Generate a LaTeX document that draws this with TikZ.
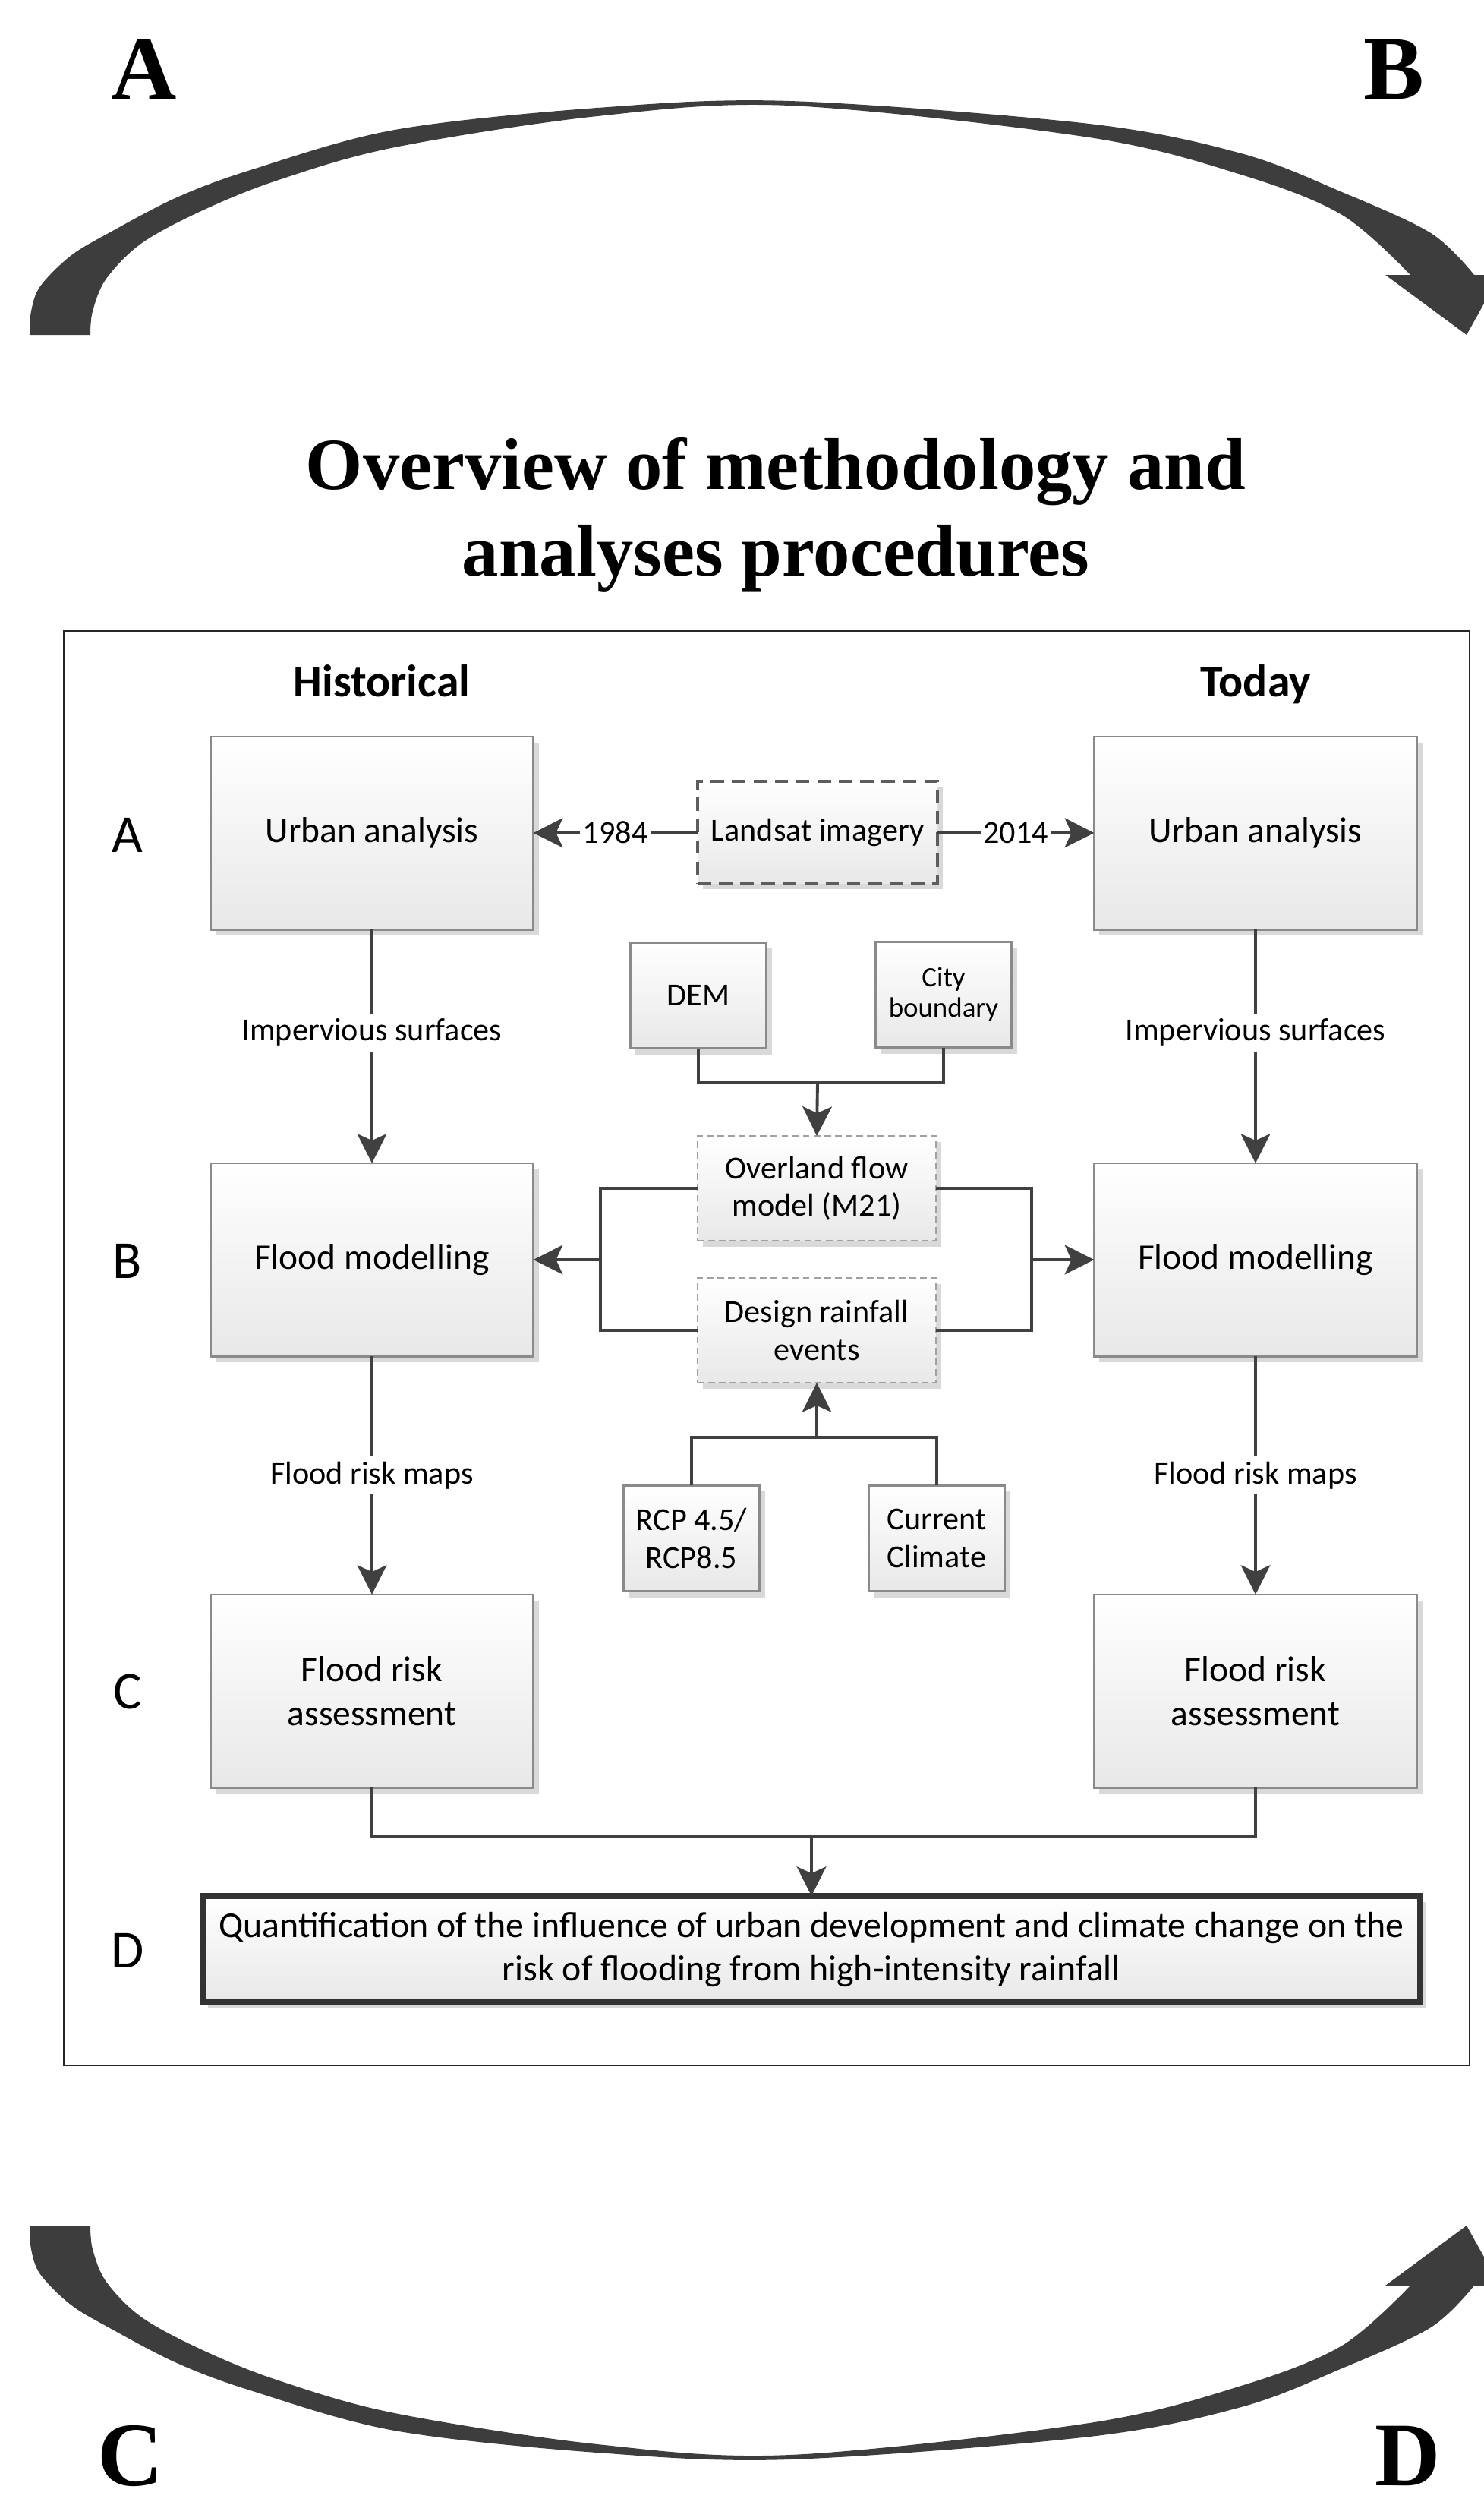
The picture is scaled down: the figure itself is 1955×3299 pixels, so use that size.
\documentclass[tikz,border=0pt]{standalone}
\usepackage{fontspec}
\setmainfont{Carlito}
\newfontfamily\headfont{Liberation Serif}
\usetikzlibrary{arrows.meta,shadows,positioning}

\definecolor{arcgray}{HTML}{3D3D3D}
\definecolor{linegray}{HTML}{404040}
\definecolor{boxgray}{HTML}{8A8A8A}

% big curved arrow of the cycle (top one; bottom one is its mirror)
\newcommand{\flowarc}{%
  \fill[arcgray] plot[smooth,tension=0.55] coordinates {(39,441) (41,410) (53,377) (93,337) (143,307) (233,260) (333,223) (520,171) (787,142) (1040,133) (1435,163) (1635,202) (1768,253) (1885,307) (1942,362)}
    -- (1976,362) -- (1932,441) -- (1825,362) -- (1858,362)
    -- plot[smooth,tension=0.55] coordinates {(1858,362) (1768,283) (1635,230) (1435,181) (1040,139) (787,153) (520,194) (367,237) (267,277) (187,320) (140,367) (122,410) (119,441)}
    -- cycle;}

\begin{document}
\begin{tikzpicture}[x=0.01cm,y=-0.01cm,inner sep=0pt,outer sep=0pt,
procblock/.style={draw=boxgray,line width=0.8pt,top color=white,bottom color=black!9,
  minimum width=4.25cm,minimum height=2.54cm,align=center,
  font=\fontsize{13.5}{16.4}\selectfont,
  drop shadow={shadow xshift=0.07cm,shadow yshift=-0.08cm,fill=black,opacity=0.15}},
smallblock/.style={procblock,minimum width=1.79cm,minimum height=1.39cm,
  font=\fontsize{12}{14.2}\selectfont},
srcblock/.style={procblock,draw=linegray!85,line width=1.2pt,dash pattern=on 5pt off 3pt,
  minimum width=3.16cm,minimum height=1.34cm,font=\fontsize{12}{14}\selectfont},
modelblock/.style={procblock,draw=boxgray!80,line width=0.6pt,dash pattern=on 2.5pt off 1.5pt,
  minimum width=3.14cm,minimum height=1.38cm,font=\fontsize{12}{14}\selectfont},
resblock/.style={procblock,draw=black!80,line width=2.2pt,
  minimum width=16.03cm,minimum height=1.40cm,font=\fontsize{13.6}{16.2}\selectfont},
conn/.style={draw=linegray,line width=1.1pt},
flow/.style={conn,-{Stealth[length=11pt,width=11pt,inset=2.5pt]}},
lbl/.style={fill=white,inner sep=2pt,font=\fontsize{12}{14}\selectfont},
rowlbl/.style={font=\fontsize{20}{24}\selectfont},
colhead/.style={font=\fontsize{17}{20}\selectfont\bfseries,anchor=base},
cyclbl/.style={font=\headfont\fontsize{34}{40}\selectfont\bfseries,anchor=base}]

\useasboundingbox (0,0) rectangle (1955,3299);

% cycle arrows
\flowarc
\begin{scope}[shift={(0,3372)},yscale=-1]
\flowarc
\end{scope}
\node[cyclbl] (cA) at (190,130) {A};
\node[cyclbl] (cB) at (1836,130) {B};
\node[cyclbl] (cC) at (172,3273) {C};
\node[cyclbl] (cD) at (1855,3273) {D};

\node[font=\headfont\fontsize{27.5}{32.6}\selectfont\bfseries,align=center] (title) at (1022,678)
  {Overview of methodology and\\analyses procedures};

% frame
\draw[line width=0.6pt,black!85] (84,831) rectangle (1936,2720);

\node[colhead] (hist) at (503,917) {Historical};
\node[colhead] (today) at (1654,917) {Today};

\node[rowlbl] (rA) at (168,1100) {A};
\node[rowlbl] (rB) at (168,1661) {B};
\node[rowlbl] (rC) at (168,2228) {C};
\node[rowlbl] (rD) at (168,2569) {D};

\draw (490,1097) node[procblock] (urbH) {Urban analysis};
\draw (1654,1097) node[procblock] (urbT) {Urban analysis};
\draw (1077,1096) node[srcblock] (landsat) {Landsat imagery};
\draw (920,1311) node[smallblock,font=\fontsize{12}{14}\selectfont] (dem) {DEM};
\draw (1243,1310) node[smallblock,font=\fontsize{10.5}{11.5}\selectfont] (city) {City\\boundary};
\draw (490,1659) node[procblock] (floodH) {Flood modelling};
\draw (1654,1659) node[procblock] (floodT) {Flood modelling};
\draw (1076,1565) node[modelblock] (olf) {Overland flow\\model (M21)};
\draw (1076,1752) node[modelblock] (rain) {Design rainfall\\events};
\draw (911,2026) node[smallblock] (rcp) {RCP 4.5/\\RCP8.5};
\draw (1234,2026) node[smallblock] (cur) {Current\\Climate};
\draw (490,2227) node[procblock] (riskH) {Flood risk\\assessment};
\draw (1654,2227) node[procblock] (riskT) {Flood risk\\assessment};
\draw (1069,2567) node[resblock] (quant) {Quantification of the influence of urban development and climate change on the\\risk of flooding from high-intensity rainfall};

\coordinate (demjoin) at (1077,1425);
\coordinate (leftjoin) at (791,1659);
\coordinate (rightjoin) at (1359,1659);
\coordinate (rcpjoin) at (1076,1893);
\coordinate (riskjoin) at (1069,2418);

\draw[flow] (landsat.west) -- (urbH.east) node[lbl,midway,inner sep=1pt] {1984};
\draw[flow] (landsat.east) -- (urbT.west) node[lbl,midway,inner sep=1pt] {2014};
\draw[flow] (urbH.south) -- (floodH.north) node[lbl,pos=0.44] {Impervious surfaces};
\draw[flow] (urbT.south) -- (floodT.north) node[lbl,pos=0.44] {Impervious surfaces};
\draw[conn] (dem.south) |- (demjoin) -| (city.south);
\draw[flow] (demjoin) -- (olf.north);
\draw[conn] (olf.west) -| (leftjoin) |- (rain.west);
\draw[flow] (leftjoin) -- (floodH.east);
\draw[conn] (olf.east) -| (rightjoin) |- (rain.east);
\draw[flow] (rightjoin) -- (floodT.west);
\draw[conn] (rcp.north) |- (rcpjoin) -| (cur.north);
\draw[flow] (rcpjoin) -- (rain.south);
\draw[flow] (floodH.south) -- (riskH.north) node[lbl,midway] {Flood risk maps};
\draw[flow] (floodT.south) -- (riskT.north) node[lbl,midway] {Flood risk maps};
\draw[conn] (riskH.south) |- (riskjoin) -| (riskT.south);
\draw[flow] (riskjoin) -- (quant.north);
\end{tikzpicture}
\end{document}
